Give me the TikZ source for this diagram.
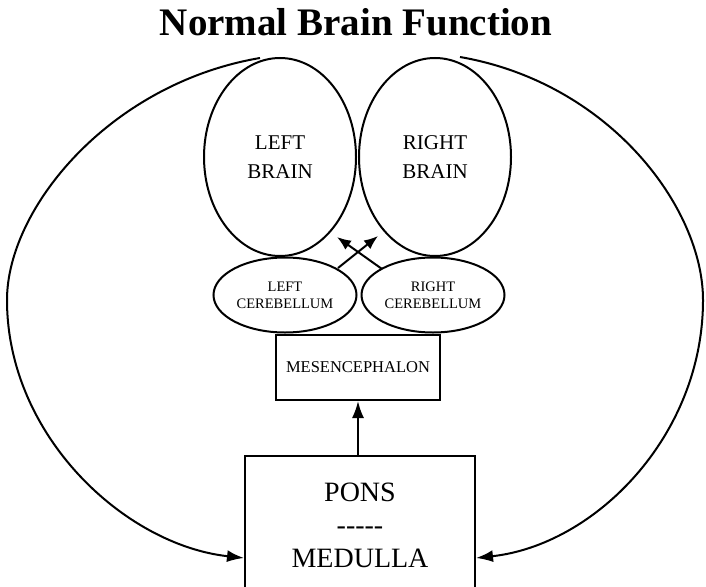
\documentclass[tikz,border=0pt]{standalone}
\usepackage{fontspec}
\setmainfont{Liberation Serif}
\usetikzlibrary{shapes.geometric,arrows.meta}
\begin{document}
\begin{tikzpicture}[x=1pt,y=-1pt,
  line width=2pt,
  brain/.style={draw, ellipse, inner sep=0pt, minimum width=152pt, minimum height=198pt, align=center, font=\fontsize{21}{29}\selectfont},
  cereb/.style={draw, ellipse, inner sep=0pt, minimum width=143pt, minimum height=75pt, align=center, font=\fontsize{14.5}{17}\selectfont},
  boxnode/.style={draw, rectangle, inner sep=0pt, align=center},
  arr/.style={-{Latex[length=17pt,width=12pt]}},
  arrsmall/.style={-{Latex[length=14pt,width=11pt]}},
]
\useasboundingbox (0,0) rectangle (706,586);
\clip (0,0) rectangle (706,586);

\node[font=\bfseries\fontsize{39}{42}\selectfont] (title) at (356,22) {Normal Brain Function};

\node[brain] (lbrain) at (280,157) {LEFT\\BRAIN};
\node[brain] (rbrain) at (435,157) {RIGHT\\BRAIN};

\node[cereb] (lcer) at (285,295) {LEFT\\CEREBELLUM};
\node[cereb] (rcer) at (433,295) {RIGHT\\CEREBELLUM};

\node[boxnode, minimum width=164pt, minimum height=65pt, font=\fontsize{16.5}{20}\selectfont] (mes) at (358,367.5) {MESENCEPHALON};

\node[boxnode, minimum width=230pt, minimum height=138pt, font=\fontsize{28}{33}\selectfont] (pons) at (360,525) {PONS\\-{}-{}-{}-{}-\\MEDULLA};

\coordinate (a1s) at (338,268);
\coordinate (a1e) at (378,236);
\coordinate (a2s) at (382,269);
\coordinate (a2e) at (337,237);
\draw[arrsmall] (a1s) -- (a1e);
\draw[arrsmall] (a2s) -- (a2e);

\draw[arr] (mes.south |- pons.north) -- (mes.south);

\coordinate (ltop) at (260,58);
\coordinate (rtop) at (460,57);
\draw[arr] (ltop) .. controls (110,83.5) and (7,208) .. (7,300)
  .. controls (7,436) and (125,545) .. ([yshift=-33pt]pons.west);
\draw[arr] (rtop) .. controls (610,83) and (703,208) .. (703,300)
  .. controls (703,436) and (595,545) .. ([yshift=-33pt]pons.east);
\end{tikzpicture}
\end{document}
